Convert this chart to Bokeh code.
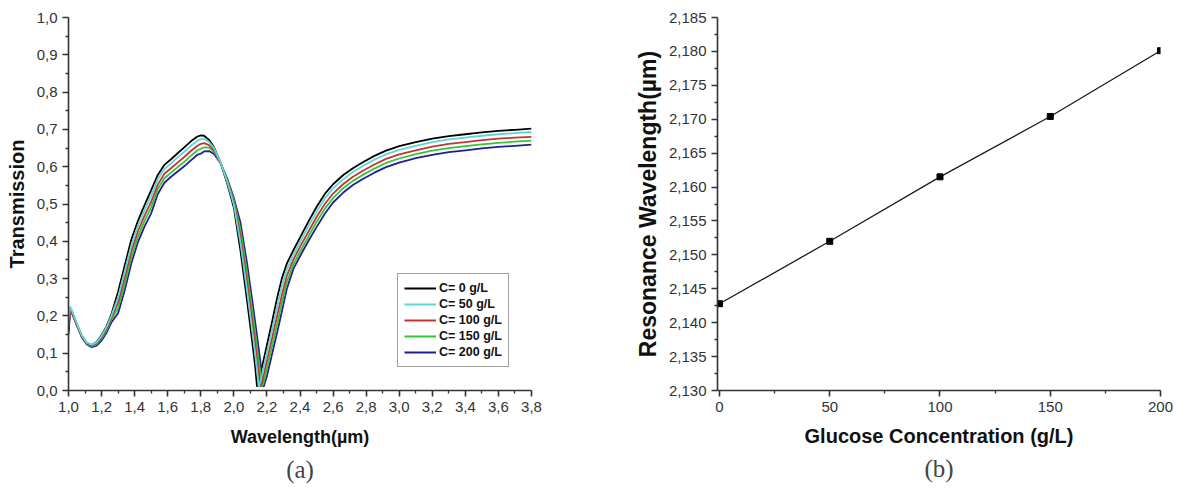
from bokeh.plotting import figure
from bokeh.models import Range1d, FixedTicker, Legend, LegendItem, Title
from bokeh.layouts import row
from bokeh.embed import file_html
from bokeh.resources import INLINE

# ---------------- data: panel (a) ----------------
wavelength = [1.00, 1.01, 1.02, 1.05, 1.08, 1.11, 1.14, 1.17, 1.20, 1.23,
              1.26, 1.30, 1.34, 1.38, 1.42, 1.46, 1.50, 1.54, 1.58, 1.62,
              1.66, 1.70, 1.74, 1.78, 1.80, 1.82, 1.85, 1.88, 1.92, 1.96,
              2.00, 2.04, 2.08, 2.11, 2.13, 2.14, 2.15, 2.16, 2.17, 2.18,
              2.20, 2.23, 2.26, 2.29, 2.32, 2.36, 2.40, 2.45, 2.50, 2.55,
              2.60, 2.66, 2.72, 2.78, 2.85, 2.92, 3.00, 3.10, 3.20, 3.30,
              3.40, 3.50, 3.60, 3.70, 3.80]

T_c0 = [0.160, 0.220, 0.212, 0.178, 0.147, 0.128, 0.122, 0.130, 0.148, 0.172,
        0.205, 0.265, 0.335, 0.405, 0.455, 0.497, 0.537, 0.578, 0.605, 0.620,
        0.636, 0.652, 0.668, 0.681, 0.684, 0.683, 0.672, 0.652, 0.610, 0.555,
        0.490, 0.375, 0.240, 0.135, 0.060, 0.010, 0.022, 0.042, 0.062, 0.082,
        0.122, 0.182, 0.245, 0.300, 0.340, 0.376, 0.410, 0.452, 0.492, 0.527,
        0.553, 0.577, 0.596, 0.612, 0.629, 0.643, 0.655, 0.666, 0.675, 0.682,
        0.687, 0.692, 0.696, 0.699, 0.702]

T_c50 = [0.190, 0.225, 0.215, 0.180, 0.148, 0.128, 0.123, 0.129, 0.146, 0.170,
         0.201, 0.250, 0.319, 0.389, 0.441, 0.484, 0.522, 0.566, 0.594, 0.609,
         0.625, 0.640, 0.656, 0.670, 0.674, 0.675, 0.666, 0.650, 0.611, 0.560,
         0.498, 0.396, 0.267, 0.164, 0.093, 0.054, 0.010, 0.022, 0.041, 0.061,
         0.101, 0.160, 0.221, 0.278, 0.324, 0.364, 0.398, 0.440, 0.479, 0.515,
         0.542, 0.566, 0.586, 0.602, 0.619, 0.633, 0.645, 0.656, 0.666, 0.673,
         0.678, 0.683, 0.687, 0.690, 0.693]

T_c100 = [0.170, 0.218, 0.210, 0.176, 0.146, 0.127, 0.121, 0.126, 0.142, 0.165,
          0.195, 0.236, 0.302, 0.373, 0.427, 0.469, 0.506, 0.552, 0.581, 0.596,
          0.611, 0.626, 0.642, 0.656, 0.661, 0.663, 0.658, 0.644, 0.610, 0.562,
          0.504, 0.414, 0.291, 0.192, 0.124, 0.087, 0.049, 0.010, 0.021, 0.041,
          0.080, 0.138, 0.197, 0.255, 0.307, 0.351, 0.385, 0.425, 0.465, 0.500,
          0.528, 0.553, 0.573, 0.589, 0.606, 0.621, 0.633, 0.644, 0.654, 0.661,
          0.666, 0.671, 0.675, 0.678, 0.680]

T_c150 = [0.180, 0.220, 0.212, 0.178, 0.146, 0.126, 0.119, 0.124, 0.139, 0.161,
          0.190, 0.221, 0.285, 0.357, 0.412, 0.455, 0.491, 0.540, 0.569, 0.584,
          0.599, 0.613, 0.629, 0.644, 0.648, 0.652, 0.651, 0.640, 0.610, 0.565,
          0.510, 0.432, 0.316, 0.219, 0.152, 0.118, 0.082, 0.043, 0.010, 0.021,
          0.059, 0.117, 0.174, 0.234, 0.290, 0.338, 0.372, 0.412, 0.452, 0.487,
          0.516, 0.542, 0.562, 0.578, 0.595, 0.610, 0.622, 0.634, 0.643, 0.650,
          0.655, 0.660, 0.664, 0.667, 0.670]

T_c200 = [0.150, 0.215, 0.208, 0.175, 0.143, 0.124, 0.116, 0.120, 0.134, 0.155,
          0.183, 0.207, 0.269, 0.341, 0.398, 0.440, 0.475, 0.527, 0.557, 0.573,
          0.587, 0.601, 0.617, 0.632, 0.635, 0.641, 0.642, 0.634, 0.609, 0.568,
          0.516, 0.450, 0.340, 0.245, 0.180, 0.147, 0.113, 0.078, 0.038, 0.010,
          0.039, 0.096, 0.152, 0.211, 0.272, 0.326, 0.360, 0.400, 0.438, 0.474,
          0.504, 0.530, 0.551, 0.567, 0.584, 0.599, 0.611, 0.623, 0.632, 0.639,
          0.644, 0.649, 0.653, 0.656, 0.659]

series_labels = ["C= 0 g/L", "C= 50 g/L", "C= 100 g/L", "C= 150 g/L", "C= 200 g/L"]
series_colors = ["#000000", "#5cd6d6", "#c83232", "#33c633", "#1e1e96"]

x_ticks_a = [1.0, 1.2, 1.4, 1.6, 1.8, 2.0, 2.2, 2.4, 2.6, 2.8, 3.0, 3.2, 3.4, 3.6, 3.8]
x_tick_labels_a = ["1,0", "1,2", "1,4", "1,6", "1,8", "2,0", "2,2", "2,4", "2,6",
                   "2,8", "3,0", "3,2", "3,4", "3,6", "3,8"]
y_ticks_a = [0.0, 0.1, 0.2, 0.3, 0.4, 0.5, 0.6, 0.7, 0.8, 0.9, 1.0]
y_tick_labels_a = ["0,0", "0,1", "0,2", "0,3", "0,4", "0,5", "0,6", "0,7", "0,8", "0,9", "1,0"]

# ---------------- data: panel (b) ----------------
glucose = [0, 50, 100, 150, 200]
resonance = [2.1428, 2.1520, 2.1615, 2.1704, 2.1801]
x_ticks_b = [0, 50, 100, 150, 200]
x_tick_labels_b = ["0", "50", "100", "150", "200"]
y_ticks_b = [2.130, 2.135, 2.140, 2.145, 2.150, 2.155, 2.160, 2.165, 2.170, 2.175, 2.180, 2.185]
y_tick_labels_b = ["2,130", "2,135", "2,140", "2,145", "2,150", "2,155", "2,160",
                   "2,165", "2,170", "2,175", "2,180", "2,185"]

FONT = "Liberation Sans"
AXC = "#333333"


def mids(t):
    return [(a + b) / 2 for a, b in zip(t, t[1:])]


def style_axis(ax, ticks, labels, minor, label_size):
    ax.ticker = FixedTicker(ticks=ticks, minor_ticks=minor)
    ax.major_label_overrides = {t: l for t, l in zip(ticks, labels)}
    ax.axis_line_color = AXC
    ax.axis_line_width = 1.6
    ax.major_tick_line_color = AXC
    ax.major_tick_line_width = 1.6
    ax.major_tick_in = 0
    ax.major_tick_out = 6
    ax.minor_tick_line_color = AXC
    ax.minor_tick_line_width = 1.3
    ax.minor_tick_in = 0
    ax.minor_tick_out = 3
    ax.major_label_text_font = FONT
    ax.major_label_text_font_size = "15px"
    ax.major_label_text_color = "#333333"
    ax.major_label_standoff = 5
    ax.axis_label_text_font = FONT
    ax.axis_label_text_font_style = "bold"
    ax.axis_label_text_font_size = label_size
    ax.axis_label_text_color = "#111111"


# ---------------- panel (a) ----------------
p1 = figure(width=590, height=495, output_backend="svg", toolbar_location=None,
            x_range=Range1d(1.0, 3.8), y_range=Range1d(0.0, 1.0),
            min_border_left=68, min_border_right=59, min_border_top=14, min_border_bottom=105)
p1.outline_line_color = None
p1.xgrid.visible = False
p1.ygrid.visible = False

series = [T_c0, T_c50, T_c100, T_c150, T_c200]
renderers = [None] * 5
for i in [0, 4, 3, 2, 1]:
    renderers[i] = p1.line(wavelength, series[i], line_color=series_colors[i], line_width=1.8)

style_axis(p1.xaxis[0], x_ticks_a, x_tick_labels_a, mids(x_ticks_a), "18px")
style_axis(p1.yaxis[0], y_ticks_a, y_tick_labels_a, mids(y_ticks_a), "20px")
p1.xaxis.axis_label = "Wavelength(µm)"
p1.yaxis.axis_label = "Transmission"
p1.xaxis.axis_label_standoff = 12
p1.yaxis.axis_label_standoff = 6

legend = Legend(items=[LegendItem(label=series_labels[i], renderers=[renderers[i]]) for i in range(5)],
                location=(329, 23))
legend.label_text_font = FONT
legend.label_text_font_style = "bold"
legend.label_text_font_size = "12.5px"
legend.label_text_color = "#111111"
legend.border_line_color = "#444444"
legend.border_line_width = 1
legend.padding = 6
legend.spacing = 0
legend.margin = 0
legend.label_height = 16
legend.glyph_height = 16
legend.glyph_width = 32
legend.label_standoff = 3
legend.background_fill_alpha = 1
p1.add_layout(legend, "center")

p1.add_layout(Title(text="(a)", align="center", text_font="Liberation Serif",
                    text_font_size="25px", text_font_style="normal", standoff=8), "below")

# ---------------- panel (b) ----------------
p2 = figure(width=587, height=495, output_backend="svg", toolbar_location=None,
            x_range=Range1d(-0.9, 200), y_range=Range1d(2.130, 2.185),
            min_border_left=127, min_border_right=17, min_border_top=17, min_border_bottom=104)
p2.outline_line_color = None
p2.xgrid.visible = False
p2.ygrid.visible = False

p2.line(glucose, resonance, line_color="#1a1a1a", line_width=1.3)
p2.scatter(glucose, resonance, marker="square", size=6, fill_color="black", line_color="black")

style_axis(p2.xaxis[0], x_ticks_b, x_tick_labels_b, mids(x_ticks_b), "20px")
style_axis(p2.yaxis[0], y_ticks_b, y_tick_labels_b, mids(y_ticks_b), "23px")
p2.xaxis.axis_label = "Glucose Concentration (g/L)"
p2.yaxis.axis_label = "Resonance Wavelength(µm)"
p2.xaxis.axis_label_standoff = 10
p2.yaxis.axis_label_standoff = 5

p2.add_layout(Title(text="(b)", align="center", offset=9, text_font="Liberation Serif",
                    text_font_size="25px", text_font_style="normal", standoff=6), "below")

layout = row(p1, p2)
open("out.html", "w").write(file_html(layout, INLINE))
